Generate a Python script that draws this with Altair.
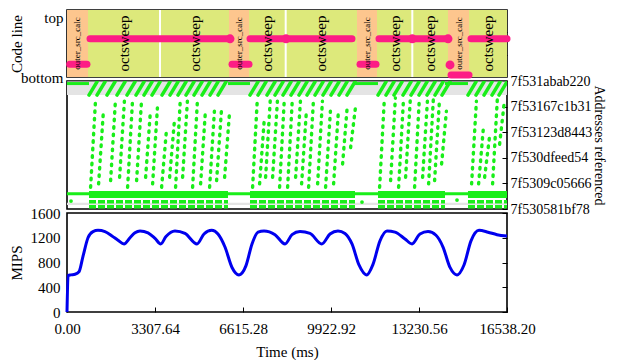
import altair as alt
import pandas as pd

T_MAX = 16538.2
time_ticks = [0.0, 3307.64, 6615.28, 9922.92, 13230.56, 16538.2]
mips_ticks = [0, 400, 800, 1200, 1600]

# ---- top panel: program phases and code line ----
phase_name = ["outer_src_calc", "octsweep", "octsweep", "outer_src_calc", "octsweep", "octsweep",
              "outer_src_calc", "octsweep", "octsweep", "outer_src_calc", "octsweep"]
phase_start = [0, 789, 3496, 6089, 6841, 8220, 10900, 11652, 12979, 14321, 15110]
phase_end = [789, 3496, 6089, 6841, 8220, 10900, 11652, 12979, 14321, 15110, 16538.2]
phase_sep = [3496, 8220, 12979]

code_start = [100, 865, 6202, 6880, 11013, 11727, 14434, 15185]
code_end = [750, 6014, 6841, 10712, 11614, 14208, 15110, 16538.2]
code_level = [0.19, 0.57, 0.19, 0.57, 0.19, 0.57, 0.03, 0.57]
knot_t = [6127, 8232, 12979, 14321, 14396]
knot_level = [0.57, 0.57, 0.57, 0.57, 0.18]
code_side_ticks = [0.333, 0.667]

# ---- middle panel: addresses referenced (units of tick spacing, 0 = bottom tick) ----
addr_labels = ["7f530581bf78", "7f5309c05666", "7f530dfeed54",
               "7f53123d8443", "7f53167c1b31", "7f531abab220"]
shade_lo = [4.45, 0.16]
shade_hi = [4.98, 0.24]
base_level = 0.6
sweep_start = [827, 6878, 11690, 15072]
sweep_end = [6051, 10825, 14208, 16538.2]
init_start = [0, 6051, 10825, 14208]
init_end = [827, 6878, 11690, 15072]
init_level = 4.9
floor_rows = [0.28, 0.09]
col_t_lo = [887, 1188, 1639, 1977, 2278, 2616, 2955, 3218, 3556, 3857, 4082, 4345, 4721, 5022, 5360,
            5623, 5924, 6976, 7239, 7465, 7728, 7991, 8292, 8593, 8818, 9081, 9420, 9720, 10021,
            10359, 10660, 11750, 12163, 12464, 12727, 13065, 13366, 13592, 13817, 14080, 15208,
            15471, 15697, 15997, 16260]
col_t_hi = [1067, 1368, 1819, 2157, 2458, 2796, 3135, 3398, 3736, 4037, 4262, 4525, 4901, 5202, 5540,
            5803, 6104, 7156, 7419, 7645, 7908, 8171, 8472, 8773, 8998, 9261, 9600, 9900, 10201,
            10539, 10840, 11930, 12343, 12644, 12907, 13245, 13546, 13772, 13997, 14260, 15388,
            15651, 15877, 16177, 16440]
col_a_hi = [4.15, 3.82, 4.21, 4.21, 4.15, 4.15, 3.82, 3.95, 3.05, 3.44, 4.34, 4.21, 4.21, 3.82, 3.82,
            3.82, 3.70, 4.34, 3.57, 4.34, 4.21, 4.34, 4.34, 4.21, 3.82, 4.21, 4.21, 3.82, 3.82, 4.08,
            3.95, 4.34, 4.34, 4.21, 4.34, 4.34, 4.21, 4.34, 4.21, 3.82, 4.21, 3.18, 2.79, 4.34, 4.21]
col_a_lo = [0.85, 0.98, 1.11, 1.24, 0.85, 1.11, 1.24, 0.98, 0.85, 1.24, 0.85, 1.24, 0.85, 0.98, 0.85,
            1.11, 1.24, 0.85, 0.98, 1.24, 1.24, 0.85, 0.85, 1.24, 0.98, 0.85, 0.98, 0.85, 0.98, 1.76,
            2.40, 0.85, 1.11, 0.85, 1.24, 0.85, 1.24, 0.98, 1.11, 1.76, 0.98, 0.98, 1.24, 0.98, 2.53]
streak_t0 = [827, 1128, 1503, 1879, 2255, 2594, 2894, 3195, 3571, 3871, 4172, 4473, 4774, 5074, 5375,
             5676, 6878, 7179, 7517, 7818, 8119, 8419, 8720, 9021, 9322, 9622, 9923, 10224, 10524,
             11690, 11990, 12291, 12629, 12930, 13231, 13531, 13832, 14095, 15072, 15373, 15674,
             15974, 16238]
streak_t1 = [1128, 1429, 1804, 2180, 2556, 2895, 3195, 3496, 3872, 4172, 4473, 4774, 5075, 5375, 5676,
             5977, 7179, 7480, 7818, 8119, 8420, 8720, 9021, 9322, 9623, 9923, 10224, 10525, 10825,
             11991, 12291, 12592, 12930, 13231, 13532, 13832, 14133, 14396, 15373, 15674, 15975,
             16275, 16539]
streak_a0 = 4.45
streak_a1 = 4.97
stray_t = [150, 11088, 14659]
stray_a = [0.31, 0.27, 0.35]

# ---- bottom panel: MIPS ----
mips_t = [0, 40, 150, 300, 450, 601, 789, 977, 1165, 1428, 1691, 1917, 2143, 2368, 2556, 2744, 3045,
          3308, 3522, 3721, 4059, 4435, 4886, 5149, 5439, 5675, 5938, 6202, 6465, 6728, 6954, 7180,
          7405, 7819, 8195, 8458, 8758, 9134, 9574, 9885, 10186, 10449, 10712, 10975, 11265, 11501,
          11764, 12028, 12329, 12705, 12968, 13268, 13569, 13870, 14133, 14396, 14659, 14922, 15185,
          15486, 15824, 16162, 16538.2]
mips_v = [0, 590, 600, 610, 650, 900, 1200, 1300, 1320, 1300, 1230, 1160, 1100, 1200, 1280, 1310, 1280,
          1190, 1100, 1220, 1310, 1270, 1100, 1260, 1320, 1260, 1050, 720, 600, 750, 1100, 1290,
          1310, 1250, 1100, 1250, 1300, 1270, 1100, 1260, 1310, 1270, 1100, 760, 600, 770,
          1150, 1310, 1290, 1180, 1100, 1260, 1300, 1240, 1050, 720, 600, 760, 1150,
          1320, 1290, 1250, 1230]

PINK = "#fd1d85"
GREEN = "#19ee19"
FONT = "Liberation Serif"
FS = 15
W = 440

xs = alt.Scale(domain=[0, T_MAX], nice=False, zero=False)
code_scale = alt.Scale(domain=[0, 1], nice=False, zero=False)
addr_scale = alt.Scale(domain=[0, 5], nice=False, zero=False)
mips_scale = alt.Scale(domain=[0, 1600], nice=False)

TOP_ONLY = {"condition": {"test": "datum.value == 1", "value": "top"}, "value": "middle"}

# ================= top panel =================
phase_df = pd.DataFrame({"phase": phase_name, "start": phase_start, "end": phase_end})
rects = alt.Chart(phase_df).mark_rect().encode(
    x=alt.X("start:Q", scale=xs, axis=None), x2="end:Q",
    color=alt.Color("phase:N", scale=alt.Scale(domain=["octsweep", "outer_src_calc"],
                                               range=["#dde97b", "#fdc68e"]), legend=None))
seps = alt.Chart(pd.DataFrame({"t": phase_sep})).mark_rule(color="white", strokeWidth=2).encode(
    x=alt.X("t:Q", scale=xs, axis=None))
code_df = pd.DataFrame({"start": code_start, "end": code_end, "level": code_level})
code = alt.Chart(code_df).mark_rule(color=PINK, strokeWidth=7, strokeCap="round").encode(
    x=alt.X("start:Q", scale=xs, axis=None), x2="end:Q",
    y=alt.Y("level:Q", scale=code_scale,
            axis=alt.Axis(orient="left", values=[0, 1],
                          labelExpr="datum.value == 1 ? 'top' : 'bottom'",
                          labelBaseline=TOP_ONLY, labelOverlap=False,
                          title="Code line", ticks=False, domain=False, labelPadding=4,
                          titlePadding=-4)))
knot_df = pd.DataFrame({"t": knot_t, "level": knot_level})
knots = alt.Chart(knot_df).mark_circle(size=80, color=PINK, opacity=1).encode(
    x=alt.X("t:Q", scale=xs, axis=None),
    y=alt.Y("level:Q", scale=code_scale,
            axis=alt.Axis(orient="right", values=code_side_ticks, labels=False, title="",
                          tickSize=5, offset=-5, domain=False, titlePadding=0)))
big_lbl = alt.Chart(phase_df).transform_filter("datum.phase == 'octsweep'").transform_calculate(
    mid="(datum.start + datum.end) / 2").mark_text(
    angle=270, fontSize=FS, font=FONT, color="black", baseline="middle", align="center").encode(
    x=alt.X("mid:Q", scale=xs, axis=None),
    y=alt.YDatum(0.5, type="quantitative", scale=code_scale, axis=None),
    text="phase:N")
small_lbl = alt.Chart(phase_df).transform_filter("datum.phase == 'outer_src_calc'").transform_calculate(
    mid="(datum.start + datum.end) / 2").mark_text(
    angle=270, fontSize=9, font=FONT, color="black", baseline="middle", align="center").encode(
    x=alt.X("mid:Q", scale=xs, axis=None),
    y=alt.YDatum(0.5, type="quantitative", scale=code_scale, axis=None),
    text="phase:N")
top = alt.layer(rects, seps, code, knots, big_lbl, small_lbl).properties(width=W, height=67)

# ================= middle panel =================
label_expr = "[" + ", ".join("'%s'" % s for s in addr_labels) + "][datum.value]"
addr_axis = alt.Axis(orient="right", values=[0, 1, 2, 3, 4, 5], labelExpr=label_expr,
                     labelOverlap=False, labelBound=False, labelFontSize=14, titleFontSize=14,
                     title="Addresses referenced", tickSize=5, offset=-5, domain=False,
                     labelPadding=3, titlePadding=0)
shade = alt.Chart(pd.DataFrame({"lo": shade_lo, "hi": shade_hi})).mark_rect(color="#e4e4e4").encode(
    y=alt.Y("lo:Q", scale=addr_scale, axis=addr_axis), y2="hi:Q")
base = alt.Chart(pd.DataFrame({"a": [base_level]})).mark_rule(color=GREEN, strokeWidth=3).encode(
    y=alt.Y("a:Q", scale=addr_scale, axis=addr_axis))
sweep_df = pd.DataFrame({"s": sweep_start, "e": sweep_end})
band = alt.Chart(sweep_df).transform_calculate(a=str(base_level - 0.03)).mark_rule(
    color=GREEN, strokeWidth=7).encode(
    x=alt.X("s:Q", scale=xs, axis=None), x2="e:Q", y=alt.Y("a:Q", scale=addr_scale, axis=addr_axis))
floor_df = pd.DataFrame([{"s": s, "e": e, "a": a} for s, e in zip(sweep_start, sweep_end) for a in floor_rows])
floor = alt.Chart(floor_df).mark_rule(color=GREEN, strokeWidth=3.5, strokeDash=[7, 2]).encode(
    x=alt.X("s:Q", scale=xs, axis=None), x2="e:Q", y=alt.Y("a:Q", scale=addr_scale, axis=addr_axis))
init_df = pd.DataFrame({"s": init_start, "e": init_end})
init = alt.Chart(init_df).transform_calculate(a=str(init_level)).mark_rule(
    color=GREEN, strokeWidth=3).encode(
    x=alt.X("s:Q", scale=xs, axis=None), x2="e:Q", y=alt.Y("a:Q", scale=addr_scale, axis=addr_axis))
streak_df = pd.DataFrame({"t0": streak_t0, "t1": streak_t1})
streaks = alt.Chart(streak_df).transform_calculate(a0=str(streak_a0), a1=str(streak_a1)).mark_rule(
    color=GREEN, strokeWidth=3.5, strokeCap="round", clip=True).encode(
    x=alt.X("t0:Q", scale=xs, axis=None), x2="t1:Q",
    y=alt.Y("a0:Q", scale=addr_scale, axis=addr_axis), y2="a1:Q")
col_df = pd.DataFrame({"t0": col_t_lo, "t1": col_t_hi, "a0": col_a_lo, "a1": col_a_hi})
cols = alt.Chart(col_df).mark_rule(color=GREEN, strokeWidth=3.4, strokeDash=[1.5, 6],
                                   strokeCap="round").encode(
    x=alt.X("t0:Q", scale=xs, axis=None), x2="t1:Q",
    y=alt.Y("a0:Q", scale=addr_scale, axis=addr_axis), y2="a1:Q")
stray = alt.Chart(pd.DataFrame({"t": stray_t, "a": stray_a})).mark_circle(
    color=GREEN, size=14, opacity=1).encode(
    x=alt.X("t:Q", scale=xs, axis=None), y=alt.Y("a:Q", scale=addr_scale, axis=addr_axis))
mid = alt.layer(shade, base, band, floor, init, streaks, cols, stray).properties(width=W, height=128)

# ================= bottom panel =================
mips_df = pd.DataFrame({"t": mips_t, "mips": mips_v})
line = alt.Chart(mips_df).mark_line(color="#0000ee", strokeWidth=3, interpolate="monotone").encode(
    x=alt.X("t:Q", scale=xs,
            axis=alt.Axis(values=time_ticks, format=".2f", title="Time (ms)", tickSize=5, offset=-5,
                          domain=False, labelPadding=9, titlePadding=8)),
    y=alt.Y("mips:Q", scale=mips_scale,
            axis=alt.Axis(orient="left", values=mips_ticks, format="d", title="MIPS", ticks=False,
                          domain=False, labelPadding=7, titlePadding=6)))
rticks = alt.Chart(pd.DataFrame({"mips": mips_ticks})).mark_point(opacity=0).encode(
    y=alt.Y("mips:Q", scale=mips_scale,
            axis=alt.Axis(orient="right", values=mips_ticks, labels=False, title="",
                          tickSize=5, offset=-5, domain=False, titlePadding=0)))
bot = alt.layer(line, rticks).properties(width=W, height=99)

chart = alt.vconcat(top, mid, bot, spacing=4, bounds="flush").properties(
    padding={"left": 0, "top": 0, "right": 0, "bottom": 0}
).configure_view(
    stroke="black", strokeWidth=1.6
).configure_axis(
    labelFont=FONT, titleFont=FONT, labelFontSize=FS, titleFontSize=FS,
    labelColor="black", titleColor="black", titleFontWeight="normal",
    tickColor="black", tickWidth=1, grid=False, labelFlush=False, labelOverlap=False
)

chart.save("out.html", embed_options={"renderer": "svg", "actions": False})
